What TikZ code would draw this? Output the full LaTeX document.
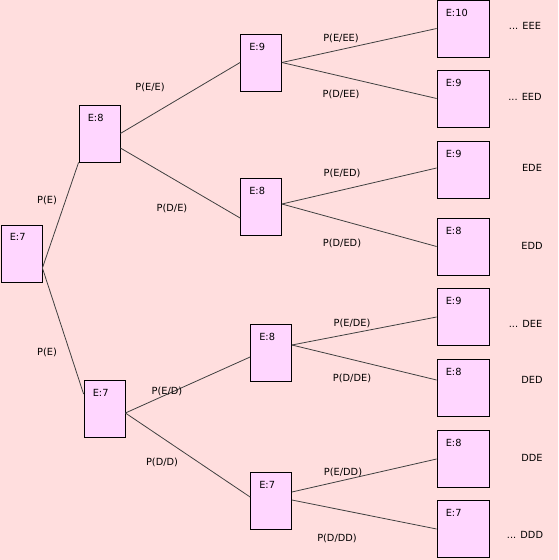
\documentclass[tikz,border=0pt]{standalone}
\usepackage{fontspec}
\setmainfont{DejaVu Sans}
\definecolor{bgpink}{RGB}{255,222,222}
\definecolor{boxpink}{RGB}{255,214,255}
\newcommand{\smallfont}{\fontsize{9.8}{11}\selectfont}

\begin{document}
\begin{tikzpicture}[x=1pt, y=-1pt,
  state/.style={draw=black, fill=boxpink, minimum width=41pt, minimum height=57pt,
                inner sep=0pt, line width=0.8pt,
                label={[anchor=north west, inner sep=0pt, xshift=9pt, yshift=-9pt,
                        font=\smallfont]north west:#1}},
  leaf/.style={state=#1, minimum width=52pt},
  branch/.style={draw=black!75, line width=0.8pt},
  prob/.style={font=\smallfont, inner sep=0pt},
  tag/.style={font=\smallfont, inner sep=0pt}
]
  \fill[bgpink] (0,0) rectangle (558,560);
  \useasboundingbox (0,0) rectangle (558,560);

  % states
  \node (r)  [state=E:7] at (21.5,253.5) {};
  \node (e)  [state=E:8] at (99.5,133.5) {};
  \node (d)  [state=E:7] at (104.5,409) {};
  \node (ee) [state=E:9] at (261,62.5) {};
  \node (ed) [state=E:8] at (261,207) {};
  \node (de) [state=E:8] at (271,352.5) {};
  \node (dd) [state=E:7] at (271,501) {};

  % leaves
  \node (eee) [leaf=E:10] at (463,28.5) {};
  \node (eed) [leaf=E:9]  at (463,98.5) {};
  \node (ede) [leaf=E:9]  at (463,170) {};
  \node (edd) [leaf=E:8]  at (463,246.5) {};
  \node (dee) [leaf=E:9]  at (463,317) {};
  \node (ded) [leaf=E:8]  at (463,388) {};
  \node (dde) [leaf=E:8]  at (463,459) {};
  \node (ddd) [leaf=E:7]  at (463,529) {};

  % branches
  \draw[branch] ([yshift=-14.5pt]r.east) -- (e.south west);
  \draw[branch] ([yshift=-14.5pt]r.east) -- ([yshift=15pt]d.west);
  \draw[branch] (e.east) -- (ee.west);
  \draw[branch] ([yshift=-14.5pt]e.east) -- ([yshift=-11pt]ed.west);
  \draw[branch] ([yshift=-4pt]d.east) -- ([yshift=-4.5pt]de.west);
  \draw[branch] ([yshift=-4pt]d.east) -- ([yshift=4pt]dd.west);
  \draw[branch] (ee.east) -- (eee.west);
  \draw[branch] (ee.east) -- (eed.west);
  \draw[branch] ([yshift=3pt]ed.east) -- ([yshift=2pt]ede.west);
  \draw[branch] ([yshift=3pt]ed.east) -- (edd.west);
  \draw[branch] ([yshift=7.5pt]de.east) -- (dee.west);
  \draw[branch] ([yshift=7.5pt]de.east) -- ([yshift=8pt]ded.west);
  \draw[branch] ([yshift=9pt]dd.east) -- (dde.west);
  \draw[branch] ([yshift=1pt]dd.east) -- (ddd.west);

  % probabilities
  \node (pe1)   [prob] at (47,200) {P(E)};
  \node (pd1)   [prob] at (47,352) {P(E)};
  \node (pee)   [prob] at (150,87) {P(E/E)};
  \node (pde)   [prob] at (172,208) {P(D/E)};
  \node (ped)   [prob] at (167,391) {P(E/D)};
  \node (pdd)   [prob] at (162,462) {P(D/D)};
  \node (peee)  [prob] at (341,38) {P(E/EE)};
  \node (pdee)  [prob] at (341,94) {P(D/EE)};
  \node (peed)  [prob] at (342,173) {P(E/ED)};
  \node (pded)  [prob] at (342,243) {P(D/ED)};
  \node (pede)  [prob] at (352,323) {P(E/DE)};
  \node (pdde)  [prob] at (352,378) {P(D/DE)};
  \node (pedd)  [prob] at (343,472) {P(E/DD)};
  \node (pddd)  [prob] at (337,538) {P(D/DD)};

  % sequences
  \node (teee) [tag] at (525,26) {... EEE};
  \node (teed) [tag] at (525,97) {... EED};
  \node (tede) [tag] at (532,168) {EDE};
  \node (tedd) [tag] at (532,246) {EDD};
  \node (tdee) [tag] at (525.5,324) {... DEE};
  \node (tded) [tag] at (532,380) {DED};
  \node (tdde) [tag] at (532,458) {DDE};
  \node (tddd) [tag] at (525,535) {... DDD};
\end{tikzpicture}
\end{document}
